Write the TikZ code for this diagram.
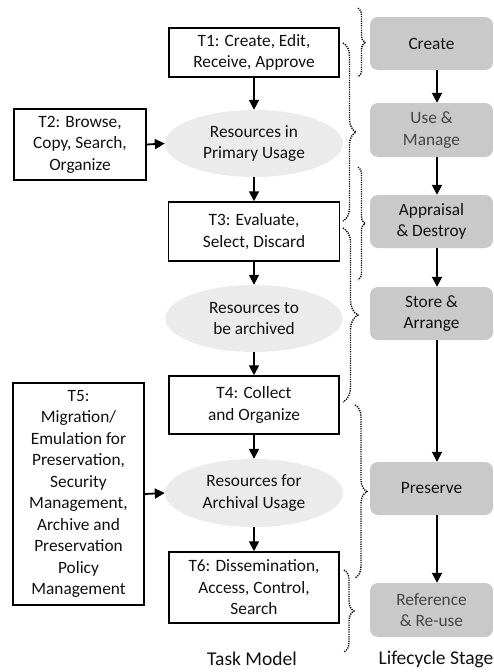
\documentclass[tikz,border=0pt]{standalone}
\usepackage{fontspec}
\setmainfont{Carlito}
\usetikzlibrary{arrows.meta,decorations.pathreplacing,shapes.geometric}
\definecolor{stagefill}{HTML}{C9C9C9}
\definecolor{ellfill}{HTML}{EBEBEB}
\definecolor{softtext}{HTML}{454545}
\definecolor{darktext}{HTML}{111111}
\tikzset{
  txt/.style={font=\fontsize{17.3}{21.5}\selectfont, align=center, text=darktext, inner sep=0pt},
  taskbox/.style={txt, draw=black, line width=1.5pt, fill=white},
  resell/.style={txt, ellipse, fill=ellfill},
  stagebox/.style={txt, fill=stagefill, rounded corners=8pt, minimum width=123pt, minimum height=53pt},
  flow/.style={line width=1.8pt, -{Triangle[width=10pt,length=10pt]}},
  dotbrace/.style={decorate, decoration={brace, amplitude=#1}, line width=1.4pt, dash pattern=on 1.2pt off 1.1pt},
  caption/.style={font=\fontsize{19.5}{23}\selectfont, text=darktext}
}
\begin{document}
\begin{tikzpicture}[x=1pt,y=-1pt]
\useasboundingbox (0,0) rectangle (494,672);
% task column
\node[taskbox, minimum width=170pt, minimum height=49pt] (T1) at (254,52.5) {T1: Create, Edit,\\Receive, Approve};
\node[resell, minimum width=178pt, minimum height=67pt] (E1) at (254,143.5) {Resources in\\Primary Usage};
\node[taskbox, minimum width=171pt, minimum height=59pt] (T3) at (254,231.5) {T3: Evaluate,\\Select, Discard};
\node[resell, minimum width=177pt, minimum height=67pt] (E2) at (254,318.5) {Resources to\\be archived};
\node[taskbox, minimum width=170pt, minimum height=58pt] (T4) at (254,405) {T4: Collect\\and Organize};
\node[resell, minimum width=178pt, minimum height=68pt] (E3) at (254,493) {Resources for\\Archival Usage};
\node[taskbox, minimum width=170pt, minimum height=71pt] (T6) at (254,587.5) {T6: Dissemination,\\Access, Control,\\Search};
\node[taskbox, minimum width=132pt, minimum height=71pt] (T2) at (80,144.5) {T2: Browse,\\Copy, Search,\\Organize};
\node[taskbox, minimum width=131pt, minimum height=222pt] (T5) at (78.5,494) {T5:\\Migration/\\Emulation for\\Preservation,\\Security\\Management,\\Archive and\\Preservation\\Policy\\Management};
% stage column
\node[stagebox] (S1) at (431.5,43.5) {Create};
\node[stagebox, text=softtext, minimum height=54pt] (S2) at (431.5,130) {Use \&\\Manage};
\node[stagebox] (S3) at (431.5,221.5) {Appraisal\\\& Destroy};
\node[stagebox] (S4) at (431.5,313.5) {Store \&\\Arrange};
\node[stagebox] (S5) at (431.5,488.5) {Preserve};
\node[stagebox, text=softtext, minimum height=54pt] (S6) at (431.5,610) {Reference\\\& Re-use};
% captions
\node[caption] (C1) at (252,659) {Task Model};
\node[caption] (C2) at (436,659) {Lifecycle Stage};
% flow arrows
\draw[flow] (T1) -- (E1);
\draw[flow] (E1) -- (T3);
\draw[flow] (T3) -- (E2);
\draw[flow] (E2) -- (T4);
\draw[flow] (T4) -- (E3);
\draw[flow] (E3) -- (T6);
\draw[flow] (T2.east) -- (E1.west);
\draw[flow] (T5.east) -- (E3.west);
\foreach \a/\b in {S1/S2,S2/S3,S3/S4,S4/S5,S5/S6}
  \draw[flow] ([xshift=5.5pt]\a.south) -- ([xshift=5.5pt]\b.north);
% dotted braces
\coordinate (A1) at (358,8);   \coordinate (A2) at (358,77);
\coordinate (B1) at (343,43);  \coordinate (B2) at (343,221);
\coordinate (Cc1) at (358,167); \coordinate (Cc2) at (358,280);
\coordinate (D1) at (343,228); \coordinate (D2) at (343,402);
\coordinate (F1) at (355,405); \coordinate (F2) at (355,578);
\coordinate (G1) at (344,570); \coordinate (G2) at (344,652);
\draw[dotbrace=7pt] (A1) -- (A2);
\draw[dotbrace=13pt] (B1) -- (B2);
\draw[dotbrace=7pt] (Cc1) -- (Cc2);
\draw[dotbrace=15pt] (D1) -- (D2);
\draw[dotbrace=12pt] (F1) -- (F2);
\draw[dotbrace=10pt] (G1) -- (G2);
\end{tikzpicture}
\end{document}
